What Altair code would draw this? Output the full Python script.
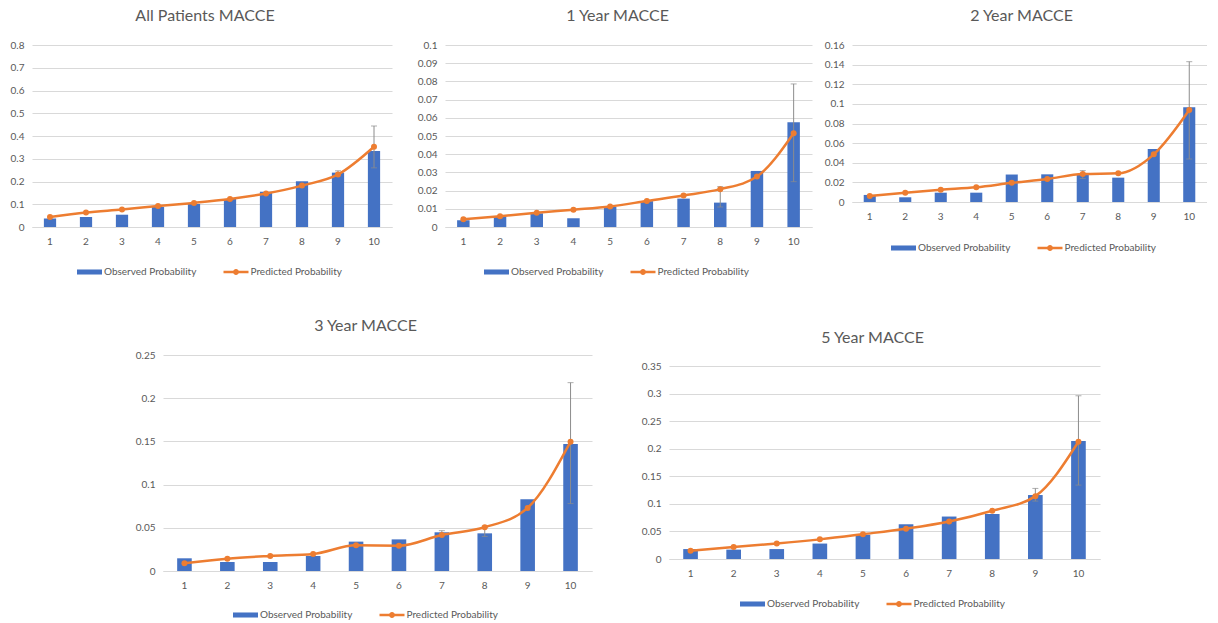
import altair as alt
import pandas as pd

deciles = [1, 2, 3, 4, 5, 6, 7, 8, 9, 10]
series_names = ["Observed Probability", "Predicted Probability"]
titles = ["All Patients MACCE", "1 Year MACCE", "2 Year MACCE", "3 Year MACCE", "5 Year MACCE"]

obs_all = [0.037, 0.044, 0.054, 0.088, 0.101, 0.123, 0.155, 0.201, 0.239, 0.334]
pred_all = [0.044, 0.064, 0.077, 0.092, 0.106, 0.123, 0.147, 0.182, 0.231, 0.353]
lo_all = [None, None, None, None, None, None, None, None, 0.232, 0.26]
hi_all = [None, None, None, None, None, None, None, None, 0.247, 0.444]

obs_1y = [0.0037, 0.0058, 0.0075, 0.0048, 0.0110, 0.0142, 0.0156, 0.0134, 0.0308, 0.0575]
pred_1y = [0.0042, 0.0059, 0.0078, 0.0095, 0.0113, 0.0143, 0.0173, 0.0208, 0.0277, 0.0515]
lo_1y = [None, None, None, None, None, None, None, 0.011, None, 0.0249]
hi_1y = [None, None, None, None, None, None, None, 0.0222, None, 0.0786]

obs_2y = [0.0072, 0.0048, 0.0095, 0.0095, 0.0280, 0.0282, 0.0275, 0.0248, 0.0540, 0.0965]
pred_2y = [0.0060, 0.0095, 0.0125, 0.0150, 0.0195, 0.0235, 0.0285, 0.0292, 0.0486, 0.0938]
lo_2y = [None, None, None, None, None, None, 0.024, None, None, 0.0438]
hi_2y = [None, None, None, None, None, None, 0.032, None, None, 0.143]

obs_3y = [0.0147, 0.0104, 0.0104, 0.0174, 0.0340, 0.0366, 0.0448, 0.0436, 0.0830, 0.1470]
pred_3y = [0.0089, 0.0143, 0.0174, 0.0197, 0.0297, 0.0293, 0.0417, 0.0506, 0.0730, 0.1497]
lo_3y = [None, None, None, None, None, None, 0.042, 0.040, None, 0.078]
hi_3y = [None, None, None, None, None, None, 0.0467, 0.052, None, 0.218]

obs_5y = [0.018, 0.017, 0.018, 0.028, 0.044, 0.063, 0.077, 0.0816, 0.116, 0.214]
pred_5y = [0.015, 0.0217, 0.028, 0.0356, 0.045, 0.055, 0.068, 0.0876, 0.114, 0.2127]
lo_5y = [None, None, None, None, None, None, None, None, 0.105, 0.134]
hi_5y = [None, None, None, None, None, None, None, None, 0.128, 0.296]

y_max = [0.8, 0.1, 0.16, 0.25, 0.35]
y_ticks = [
    [0, 0.1, 0.2, 0.3, 0.4, 0.5, 0.6, 0.7, 0.8],
    [0, 0.01, 0.02, 0.03, 0.04, 0.05, 0.06, 0.07, 0.08, 0.09, 0.1],
    [0, 0.02, 0.04, 0.06, 0.08, 0.1, 0.12, 0.14, 0.16],
    [0, 0.05, 0.1, 0.15, 0.2, 0.25],
    [0, 0.05, 0.1, 0.15, 0.2, 0.25, 0.3, 0.35],
]

obs_sets = [obs_all, obs_1y, obs_2y, obs_3y, obs_5y]
pred_sets = [pred_all, pred_1y, pred_2y, pred_3y, pred_5y]
lo_sets = [lo_all, lo_1y, lo_2y, lo_3y, lo_5y]
hi_sets = [hi_all, hi_1y, hi_2y, hi_3y, hi_5y]

# layout (pixels); "drop" = empty band above the top gridline
LAYOUT = [
    dict(w=360, h=182, ext=32, lx=51.5, ly=221, dx=-7, drop=0, tdy=0),
    dict(w=367, h=182, ext=53, lx=45.5, ly=221, dx=-11, drop=0, tdy=0),
    dict(w=355, h=157, ext=40, lx=45.5, ly=197, dx=-8, drop=0, tdy=0),
    dict(w=429, h=216, ext=40, lx=76.5, ly=254, dx=-12, drop=0, tdy=0),
    dict(w=431, h=193, ext=77, lx=77.5, ly=243, dx=-12, drop=11, tdy=7),
]
BOTTOM_INDENT = 91
ROW_GAP = 41

BLUE = "#4472C4"
ORANGE = "#ED7D31"
TXT = "#595959"
GRID = "#d9d9d9"
ERR = "#8c8c8c"
FONT = "Lato"

OBS_PATH = "M-2.083,-0.42H2.083V0.42H-2.083Z"
PRED_PATH = ("M-2.083,-0.22H2.083V0.22H-2.083Z "
             "M-0.5,0A0.5,0.5 0 1,1 0.5,0A0.5,0.5 0 1,1 -0.5,0Z")


def panel(i):
    L = LAYOUT[i]
    bars_df = pd.DataFrame({"decile": deciles, "obs": obs_sets[i], "series": series_names[0]})
    pred_df = pd.DataFrame({"decile": deciles, "pred": pred_sets[i], "series": series_names[1]})
    err_rows = [
        {"decile": d, "lo": lo, "hi": hi}
        for d, lo, hi in zip(deciles, lo_sets[i], hi_sets[i])
        if lo is not None
    ]
    err_df = pd.DataFrame(err_rows)

    h = L["h"] + L["drop"]
    top = y_max[i] if L["drop"] == 0 else y_max[i] * h / L["h"]
    yscale = alt.Scale(domain=[0, top], nice=False, zero=True)
    xenc = alt.X(
        "decile:O",
        scale=alt.Scale(paddingInner=0.66, paddingOuter=0.33),
        axis=alt.Axis(
            title=None, labelAngle=0, ticks=False, domainColor=GRID, domainWidth=1,
            labelColor=TXT, labelFontSize=10, labelFont=FONT, labelPadding=9, grid=False,
        ),
    )
    yaxis = alt.Axis(
        title=None, values=y_ticks[i], tickCount=len(y_ticks[i]), labelOverlap=False,
        format=".2~f", grid=True, gridColor=GRID,
        gridWidth=1, domain=False, ticks=False, labelPadding=8, labelColor=TXT,
        labelFontSize=10, labelFont=FONT, minExtent=L["ext"], maxExtent=L["ext"] + 40,
    )
    legend = alt.Legend(
        title=None, orient="none", legendX=L["lx"], legendY=L["ly"],
        direction="horizontal",
        symbolSize=144, labelFontSize=10, labelFont=FONT, labelColor=TXT, labelOffset=8.5,
        columnPadding=26.5, padding=0, symbolStrokeWidth=0, symbolOpacity=1,
    )
    cscale = alt.Scale(domain=series_names, range=[BLUE, ORANGE])
    sscale = alt.Scale(domain=series_names, range=[OBS_PATH, PRED_PATH])

    bars = alt.Chart(bars_df).mark_bar(color=BLUE).encode(
        x=xenc,
        y=alt.Y("obs:Q", scale=yscale, axis=yaxis),
        color=alt.Color("series:N", scale=cscale, legend=legend),
    )
    rule = alt.Chart(err_df).mark_rule(color=ERR, strokeWidth=1).encode(
        x=alt.X("decile:O"), y=alt.Y("lo:Q"), y2="hi:Q"
    )
    cap_hi = alt.Chart(err_df).mark_tick(color=ERR, thickness=1, size=6).encode(
        x=alt.X("decile:O"), y=alt.Y("hi:Q")
    )
    cap_lo = alt.Chart(err_df).mark_tick(color=ERR, thickness=1, size=6).encode(
        x=alt.X("decile:O"), y=alt.Y("lo:Q")
    )
    line = alt.Chart(pred_df).mark_line(strokeWidth=2.5, interpolate="monotone").encode(
        x=alt.X("decile:O"), y=alt.Y("pred:Q"), color=alt.Color("series:N")
    )
    pts = alt.Chart(pred_df).mark_point(filled=True, size=36, opacity=1).encode(
        x=alt.X("decile:O"), y=alt.Y("pred:Q"), color=alt.Color("series:N")
    )
    # legend carrier: no rows, only its shape/color scales feed the legend
    legend_layer = alt.Chart(pred_df).transform_filter("false").mark_point(
        filled=True, opacity=1, strokeWidth=0
    ).encode(
        x=alt.X("decile:O"), y=alt.Y("pred:Q"),
        color=alt.Color("series:N"),
        shape=alt.Shape("series:N", scale=sscale, legend=legend),
    )
    return alt.layer(bars, rule, cap_hi, cap_lo, line, pts, legend_layer).properties(
        width=L["w"], height=h,
        title=alt.TitleParams(
            titles[i], fontSize=16, font=FONT, color=TXT, fontWeight="normal",
            offset=3, baseline="alphabetic", frame="group", anchor="middle",
            dx=L["dx"], dy=L["tdy"],
        ),
    )


indent = alt.Chart(pd.DataFrame({"k": [0]})).mark_rect(opacity=0).encode(
    x=alt.value(0), x2=alt.value(BOTTOM_INDENT), y=alt.value(0), y2=alt.value(1)
).properties(width=BOTTOM_INDENT, height=1)

top_row = alt.hconcat(panel(0), panel(1), panel(2), spacing=0).resolve_scale(
    color="independent", shape="independent"
)
bottom_row = alt.hconcat(indent, panel(3), panel(4), spacing=0).resolve_scale(
    color="independent", shape="independent"
)

chart = (
    alt.vconcat(top_row, bottom_row, spacing=ROW_GAP)
    .resolve_scale(color="independent", shape="independent")
    .properties(padding={"left": 0, "top": 8, "right": 0, "bottom": 0}, background="white")
    .configure_view(strokeWidth=0)
)

chart.save("out.html", embed_options={"renderer": "svg", "actions": False})
